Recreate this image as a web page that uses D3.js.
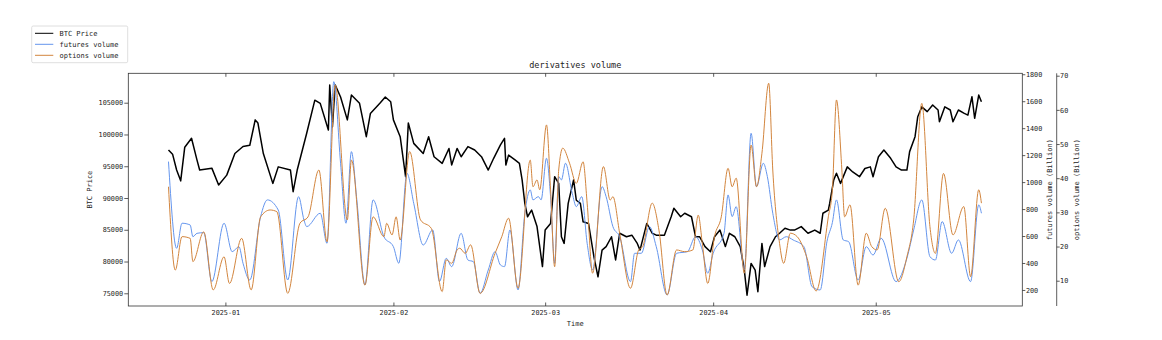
<!DOCTYPE html>
<html>
<head>
<meta charset="utf-8">
<script src="https://cdn.jsdelivr.net/npm/d3@7/dist/d3.min.js"></script>
<style>
  html, body { margin: 0; padding: 0; background: #fff; }
  svg { display: block; }
  text { font-family: "DejaVu Sans Mono", monospace; fill: #222; }
</style>
</head>
<body>
<svg id="chart" width="1162" height="340"></svg>
<script>
// ---------------- data ----------------
const btcPrice = [
["2024-12-21 12",97550],["2024-12-22 06",96900],["2024-12-23 00",94400],["2024-12-23 18",92700],["2024-12-24 12",98000],["2024-12-25 18",99400],["2024-12-26 18",96000],["2024-12-27 06",94400],["2024-12-29 12",94700],["2024-12-30 18",92050],
["2025-01-01 06",93600],["2025-01-02 18",97000],["2025-01-04 06",98100],["2025-01-05 12",98300],["2025-01-06 12",102300],["2025-01-07 00",101800],["2025-01-08 00",97000],["2025-01-09 18",92300],["2025-01-10 18",94900],["2025-01-13 00",94400],["2025-01-13 12",91000],["2025-01-14 06",94400],["2025-01-16 00",100200],["2025-01-17 12",105400],["2025-01-18 12",104900],["2025-01-20 00",100700],["2025-01-20 06",107800],["2025-01-20 18",101200],["2025-01-21 06",107800],["2025-01-22 06",105900],["2025-01-23 12",102300],["2025-01-24 06",106200],["2025-01-25 18",104900],["2025-01-27 00",99650],["2025-01-27 18",103300],["2025-01-29 12",104900],["2025-01-30 12",105900],["2025-01-31 12",105150],
["2025-02-01 00",102300],["2025-02-02 06",99650],["2025-02-03 06",93350],["2025-02-03 18",101800],["2025-02-04 18",98600],["2025-02-06 12",97000],["2025-02-07 12",99650],["2025-02-08 12",96500],["2025-02-10 00",95450],["2025-02-11 06",97800],["2025-02-11 18",95200],["2025-02-12 18",97800],["2025-02-13 12",96500],["2025-02-14 18",98100],["2025-02-16 00",97550],["2025-02-17 06",96500],["2025-02-18 12",94400],["2025-02-19 12",96250],["2025-02-20 18",98350],["2025-02-21 12",99400],["2025-02-21 18",95200],["2025-02-22 06",96750],["2025-02-23 12",95950],["2025-02-24 06",95450],["2025-02-24 18",92850],["2025-02-25 06",89150],["2025-02-25 18",87050],["2025-02-26 12",88100],["2025-02-27 12",85500],["2025-02-28 12",79200],
["2025-03-01 00",84950],["2025-03-02 00",86000],["2025-03-02 18",93350],["2025-03-03 12",92300],["2025-03-04 00",83900],["2025-03-04 12",82850],["2025-03-05 06",89150],["2025-03-06 06",92850],["2025-03-06 18",89650],["2025-03-07 12",89150],["2025-03-08 00",86250],["2025-03-09 00",86000],["2025-03-10 00",80750],["2025-03-10 18",77600],["2025-03-11 12",81800],["2025-03-12 06",82350],["2025-03-13 06",83900],["2025-03-14 00",80250],["2025-03-14 18",84450],["2025-03-16 00",83900],["2025-03-17 00",84150],["2025-03-18 00",82850],["2025-03-18 12",81800],["2025-03-19 18",86000],["2025-03-20 18",84450],["2025-03-21 12",84150],["2025-03-23 00",84150],["2025-03-24 06",87050],["2025-03-24 18",88400],["2025-03-26 00",87050],["2025-03-26 18",87600],["2025-03-28 00",87050],["2025-03-28 18",83900],["2025-03-29 12",83900],["2025-03-30 12",82350],["2025-03-31 12",81550],
["2025-04-01 06",83900],["2025-04-02 06",84950],["2025-04-03 06",82350],["2025-04-04 00",84450],["2025-04-05 00",83900],["2025-04-06 00",82350],["2025-04-06 18",78650],["2025-04-07 06",74700],["2025-04-08 00",79700],["2025-04-08 18",78650],["2025-04-09 06",75250],["2025-04-10 00",82850],["2025-04-10 12",79200],["2025-04-11 12",82350],["2025-04-12 12",83900],["2025-04-13 06",84450],["2025-04-14 06",85250],["2025-04-15 06",84950],["2025-04-16 00",84950],["2025-04-17 06",85500],["2025-04-18 12",84450],["2025-04-19 18",84950],["2025-04-20 18",84450],["2025-04-21 06",87600],["2025-04-22 06",88100],["2025-04-22 12",89150],["2025-04-23 06",92850],["2025-04-23 18",93900],["2025-04-24 12",92300],["2025-04-25 18",94900],["2025-04-26 18",94100],["2025-04-28 00",93350],["2025-04-29 00",94650],["2025-04-30 00",94900],["2025-04-30 12",93350],
["2025-05-01 12",96500],["2025-05-02 12",97550],["2025-05-03 18",96250],["2025-05-04 18",94900],["2025-05-05 18",94400],["2025-05-06 18",94400],["2025-05-07 06",97300],["2025-05-08 06",99650],["2025-05-08 18",102800],["2025-05-09 12",104350],["2025-05-10 12",103600],["2025-05-11 12",104650],["2025-05-12 12",103850],["2025-05-12 18",102000],["2025-05-13 18",104350],["2025-05-14 18",103850],["2025-05-15 06",102000],["2025-05-16 06",103850],["2025-05-17 06",103350],["2025-05-18 00",103050],["2025-05-18 18",105950],["2025-05-19 06",102550],["2025-05-20 00",106200],["2025-05-20 12",105150]
];

const futuresVolume = [
["2024-12-21 12",1152],["2024-12-23 00",509],["2024-12-24 00",695],["2024-12-25 12",682],["2024-12-26 00",595],["2024-12-26 18",620],["2024-12-28 00",625],["2024-12-29 12",262],["2024-12-31 18",695],
["2025-01-02 06",484],["2025-01-03 12",521],["2025-01-04 06",398],["2025-01-05 12",274],["2025-01-07 12",744],["2025-01-08 18",868],["2025-01-10 18",793],["2025-01-12 12",274],["2025-01-14 12",892],["2025-01-15 12",719],["2025-01-16 00",670],["2025-01-18 12",769],["2025-01-19 18",546],["2025-01-21 00",1745],["2025-01-22 06",1140],["2025-01-23 06",695],["2025-01-24 06",1226],["2025-01-25 06",868],["2025-01-26 18",237],["2025-01-28 06",868],["2025-01-30 06",595],
["2025-02-01 00",521],["2025-02-02 00",398],["2025-02-03 12",1065],["2025-02-04 18",843],["2025-02-06 12",533],["2025-02-08 06",645],["2025-02-09 12",262],["2025-02-10 18",435],["2025-02-11 18",373],["2025-02-13 12",620],["2025-02-14 18",422],["2025-02-15 18",410],["2025-02-17 00",175],["2025-02-18 12",348],["2025-02-19 18",484],["2025-02-20 18",385],["2025-02-21 12",373],["2025-02-22 12",645],["2025-02-24 00",200],["2025-02-25 06",769],["2025-02-26 06",942],["2025-02-26 18",868],["2025-02-27 18",892],["2025-02-28 06",868],
["2025-03-01 06",1177],["2025-03-02 00",892],["2025-03-02 18",398],["2025-03-03 12",1041],["2025-03-04 00",1016],["2025-03-04 18",1140],["2025-03-06 00",917],["2025-03-06 18",818],["2025-03-07 18",892],["2025-03-08 18",546],["2025-03-09 18",348],["2025-03-11 12",966],["2025-03-12 06",892],["2025-03-13 12",670],["2025-03-14 18",595],["2025-03-16 18",262],["2025-03-17 12",472],["2025-03-18 18",472],["2025-03-20 06",670],["2025-03-21 12",521],["2025-03-23 12",163],["2025-03-25 06",472],["2025-03-27 06",484],["2025-03-28 18",595],["2025-03-30 00",497],["2025-03-31 00",324],
["2025-04-01 00",472],["2025-04-03 00",620],["2025-04-03 18",905],["2025-04-04 12",744],["2025-04-05 06",818],["2025-04-06 18",348],["2025-04-08 00",1362],["2025-04-09 00",966],["2025-04-10 06",1140],["2025-04-11 00",1041],["2025-04-12 00",769],["2025-04-13 06",571],["2025-04-14 12",595],["2025-04-15 18",571],["2025-04-17 18",521],["2025-04-19 06",224],["2025-04-20 18",200],["2025-04-22 00",560],["2025-04-23 00",700],["2025-04-23 18",868],["2025-04-25 00",571],["2025-04-26 00",558],["2025-04-27 18",274],["2025-04-29 06",521],["2025-04-30 12",459],
["2025-05-02 00",583],["2025-05-04 18",262],["2025-05-06 18",435],["2025-05-08 00",645],["2025-05-09 12",868],["2025-05-11 00",447],["2025-05-12 00",422],["2025-05-13 06",707],["2025-05-15 00",472],["2025-05-16 06",571],["2025-05-18 12",262],["2025-05-20 00",831],["2025-05-20 12",769]
];

const optionsVolume = [
["2024-12-21 12",37.5],["2024-12-22 18",13.1],["2024-12-24 00",22.9],["2024-12-25 12",22.4],["2024-12-26 00",15.6],["2024-12-28 00",24.3],["2024-12-29 18",7.3],["2024-12-31 18",17.0],
["2025-01-01 18",9.2],["2025-01-04 00",22.4],["2025-01-05 18",7.3],["2025-01-07 12",28.7],["2025-01-09 06",30.7],["2025-01-10 12",30.2],["2025-01-12 12",6.3],["2025-01-14 18",26.8],["2025-01-16 06",28.7],["2025-01-18 06",42.4],["2025-01-19 18",21.4],["2025-01-21 06",67.3],["2025-01-23 12",27.8],["2025-01-24 06",45.3],["2025-01-26 18",8.7],["2025-01-28 06",28.7],["2025-01-30 06",22.9],["2025-01-30 18",26.8],["2025-01-31 18",23.4],
["2025-02-01 12",28.7],["2025-02-02 06",21.9],["2025-02-04 00",47.8],["2025-02-06 00",27.8],["2025-02-08 00",25.3],["2025-02-10 00",6.8],["2025-02-10 18",16.1],["2025-02-11 18",15.1],["2025-02-12 18",19.0],["2025-02-13 06",19.5],["2025-02-14 06",18.0],["2025-02-15 06",20.5],["2025-02-17 00",6.3],["2025-02-19 18",18.0],["2025-02-21 00",22.9],["2025-02-22 06",28.3],["2025-02-24 00",7.8],["2025-02-26 06",45.3],["2025-02-26 18",37.5],["2025-02-27 12",39.5],["2025-02-28 00",36.6],
["2025-03-01 06",55.6],["2025-03-02 00",36.6],["2025-03-02 18",14.1],["2025-03-03 12",42.4],["2025-03-04 06",48.8],["2025-03-05 12",44.4],["2025-03-06 18",38.5],["2025-03-08 00",44.8],["2025-03-08 18",32.7],["2025-03-09 18",12.2],["2025-03-11 18",43.4],["2025-03-13 00",33.6],["2025-03-13 12",34.6],["2025-03-14 18",23.9],["2025-03-16 18",7.8],["2025-03-18 06",19.0],["2025-03-19 00",20.0],["2025-03-20 18",32.7],["2025-03-22 00",24.8],["2025-03-23 12",5.8],["2025-03-25 06",19.0],["2025-03-26 18",18.5],["2025-03-28 06",19.0],["2025-03-29 06",29.2],["2025-03-30 00",20.9],["2025-03-31 00",9.2],
["2025-04-01 06",22.9],["2025-04-02 12",28.7],["2025-04-03 18",42.9],["2025-04-04 12",37.5],["2025-04-05 06",40.0],["2025-04-06 18",12.2],["2025-04-08 00",49.7],["2025-04-09 00",37.5],["2025-04-10 00",47.3],["2025-04-11 06",67.8],["2025-04-12 00",42.4],["2025-04-13 06",20.9],["2025-04-14 00",15.1],["2025-04-15 06",23.9],["2025-04-16 12",22.9],["2025-04-18 06",17.0],["2025-04-20 00",7.0],["2025-04-22 06",28.7],["2025-04-23 00",36.6],["2025-04-23 18",62.9],["2025-04-24 18",42.4],["2025-04-25 06",28.7],["2025-04-26 06",32.2],["2025-04-27 18",8.7],["2025-04-29 06",23.9],["2025-04-30 06",20.0],
["2025-05-01 06",19.0],["2025-05-02 18",31.2],["2025-05-05 06",9.7],["2025-05-06 18",17.0],["2025-05-08 00",27.8],["2025-05-09 12",61.9],["2025-05-11 00",25.8],["2025-05-12 00",18.0],["2025-05-13 12",41.4],["2025-05-15 06",23.4],["2025-05-17 06",31.7],["2025-05-18 12",11.2],["2025-05-20 00",36.6],["2025-05-20 12",32.7]
];

const monthTicks = ["2025-01-01 00","2025-02-01 00","2025-03-01 00","2025-04-01 00","2025-05-01 00"];
const priceTicks = [75000, 80000, 85000, 90000, 95000, 100000, 105000];
const futuresTicks = [200, 400, 600, 800, 1000, 1200, 1400, 1600, 1800];
const optionsTicks = [10, 20, 30, 40, 50, 60, 70];
const seriesNames = ["BTC Price", "futures volume", "options volume"];
const seriesColors = ["#000000", "#6495ED", "#D2853E"];

// ---------------- layout ----------------
const L = 128.3, R = 1022.3, T = 73.3, B = 306;
const parse = d3.timeParse("%Y-%m-%d %H");
const svg = d3.select("#chart");

const x = d3.scaleTime()
  .domain([parse("2024-12-14 02"), parse("2025-05-28 01")])
  .range([L, R]);
const yPrice = d3.scaleLinear().domain([73000, 109630]).range([B, T]);
const yFut = d3.scaleLinear().domain([81, 1807]).range([B, T]);
const yOpt = d3.scaleLinear().domain([2.6, 70.7]).range([B, T]);

svg.append("clipPath").attr("id", "plotclip")
  .append("rect").attr("x", L).attr("y", T).attr("width", R - L).attr("height", B - T);

const plot = svg.append("g").attr("clip-path", "url(#plotclip)");

function drawLine(data, yScale, color, width, curve) {
  const line = d3.line()
    .x(d => x(parse(d[0])))
    .y(d => yScale(d[1]))
    .curve(curve);
  plot.append("path")
    .datum(data)
    .attr("d", line)
    .attr("fill", "none")
    .attr("stroke", color)
    .attr("stroke-width", width)
    .attr("stroke-linejoin", "round");
}
drawLine(btcPrice, yPrice, seriesColors[0], 1.5, d3.curveLinear);
drawLine(futuresVolume, yFut, seriesColors[1], 1, d3.curveMonotoneX);
drawLine(optionsVolume, yOpt, seriesColors[2], 1, d3.curveMonotoneX);

// ---------------- axes ----------------
const axisColor = "#333";
function styleAxis(g, fontSize) {
  g.selectAll(".tick line").attr("stroke", axisColor).attr("stroke-width", 0.8);
  g.selectAll(".tick text").attr("font-size", fontSize).attr("font-family", "DejaVu Sans Mono").attr("fill", "#222");
}
const intFmt = d3.format("d");

// left price axis
const gLeft = svg.append("g").attr("transform", `translate(${L},0)`)
  .call(d3.axisLeft(yPrice).tickValues(priceTicks).tickFormat(intFmt).tickSize(4).tickPadding(1.2));
gLeft.select(".domain").remove();
styleAxis(gLeft, 6.8);

// bottom time axis (inward ticks)
const gBottom = svg.append("g").attr("transform", `translate(0,${B})`)
  .call(d3.axisBottom(x).tickValues(monthTicks.map(parse)).tickFormat(d3.timeFormat("%Y-%m"))
    .tickSizeInner(-3.5).tickSizeOuter(0).tickPadding(3.8));
gBottom.select(".domain").remove();
styleAxis(gBottom, 6.8);

// top (tick marks only)
const gTop = svg.append("g").attr("transform", `translate(0,${T})`)
  .call(d3.axisTop(x).tickValues(monthTicks.map(parse)).tickFormat("").tickSizeInner(-3.5).tickSizeOuter(0));
gTop.select(".domain").remove();
styleAxis(gTop, 6.8);

// right futures axis
const gFut = svg.append("g").attr("transform", `translate(${R},0)`)
  .call(d3.axisRight(yFut).tickValues(futuresTicks).tickFormat(intFmt).tickSize(3).tickPadding(0.6));
gFut.select(".domain").remove();
styleAxis(gFut, 6.8);

// second right axis (options), offset spine
const optX = 1056.7;
const gOpt = svg.append("g").attr("transform", `translate(${optX},0)`)
  .call(d3.axisRight(yOpt).tickValues(optionsTicks).tickFormat(intFmt).tickSize(3).tickPadding(0.4));
gOpt.select(".domain").remove();
styleAxis(gOpt, 6.8);
svg.append("line").attr("x1", optX).attr("x2", optX).attr("y1", T).attr("y2", B)
  .attr("stroke", axisColor).attr("stroke-width", 0.8);

// frame
svg.append("rect").attr("x", L).attr("y", T).attr("width", R - L).attr("height", B - T)
  .attr("fill", "none").attr("stroke", axisColor).attr("stroke-width", 0.8);

// ---------------- labels ----------------
svg.append("text").attr("x", (L + R) / 2).attr("y", 68).attr("text-anchor", "middle")
  .attr("font-size", 8.5).text("derivatives volume");
svg.append("text").attr("x", (L + R) / 2).attr("y", 326).attr("text-anchor", "middle")
  .attr("font-size", 7).text("Time");
svg.append("text").attr("transform", `translate(92,${(T + B) / 2}) rotate(-90)`)
  .attr("text-anchor", "middle").attr("font-size", 7).text("BTC Price");
svg.append("text").attr("transform", `translate(1052,${(T + B) / 2}) rotate(-90)`)
  .attr("text-anchor", "middle").attr("font-size", 7).text("futures volume (Billion)");
svg.append("text").attr("transform", `translate(1079,${(T + B) / 2}) rotate(-90)`)
  .attr("text-anchor", "middle").attr("font-size", 7).text("options volume (Billion)");

// ---------------- legend ----------------
const leg = svg.append("g");
leg.append("rect").attr("x", 31.7).attr("y", 26).attr("width", 96).attr("height", 36.7)
  .attr("rx", 1.5).attr("fill", "#fff").attr("stroke", "#d6d6d6").attr("stroke-width", 0.8);
seriesNames.forEach((name, i) => {
  const yy = 33.3 + i * 11;
  leg.append("line").attr("x1", 35).attr("x2", 53.3).attr("y1", yy).attr("y2", yy)
    .attr("stroke", seriesColors[i]).attr("stroke-width", 1);
  leg.append("text").attr("x", 59.5).attr("y", yy).attr("dy", "0.35em")
    .attr("font-size", 7).text(name);
});
</script>
</body>
</html>
